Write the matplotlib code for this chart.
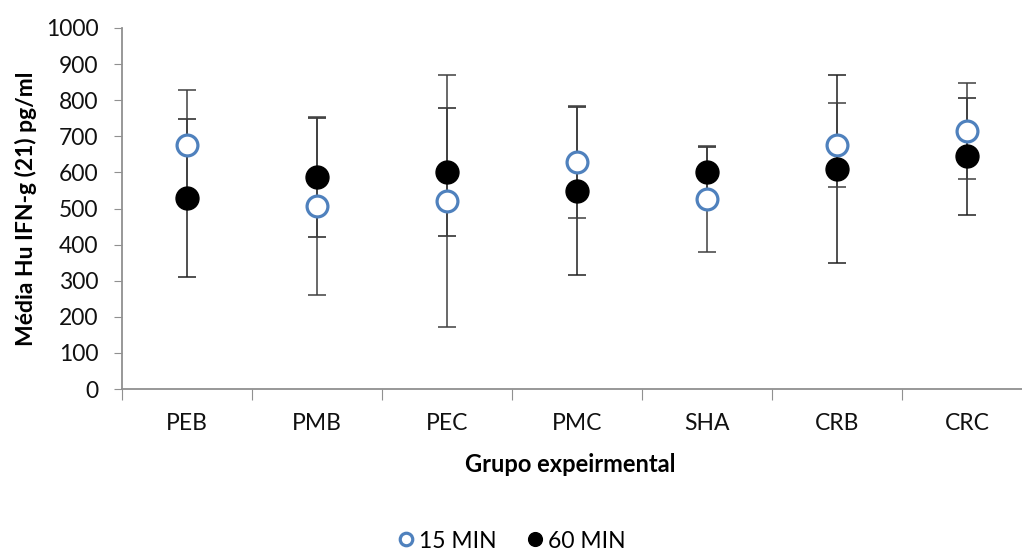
import matplotlib.pyplot as plt
import numpy as np

plt.rcParams['font.family'] = ['Lato', 'DejaVu Sans']

grupos = ['PEB', 'PMB', 'PEC', 'PMC', 'SHA', 'CRB', 'CRC']
media_15 = [676, 507, 521, 629, 526, 676, 715]
erro_15 = [152, 247, 350, 155, 146, 116, 132]
media_60 = [529, 587, 601, 548, 601, 609, 645]
erro_60 = [220, 165, 178, 232, 70, 260, 162]

fig = plt.figure(figsize=(10.22, 5.51), dpi=100)
ax = fig.add_axes([122 / 1022, 1 - 389 / 551, 910 / 1022, 361 / 551])

x = np.arange(len(grupos))
ax.errorbar(x, media_60, yerr=erro_60, fmt='none', ecolor='#202020', elinewidth=1.1,
            capsize=6.5, capthick=1.1, zorder=2)
ax.errorbar(x, media_15, yerr=erro_15, fmt='none', ecolor='#404040', elinewidth=1.1,
            capsize=6.5, capthick=1.1, zorder=2)
ax.plot(x, media_15, 'o', ms=15, mfc='white', mec='#4F81BD', mew=2.3, ls='none',
        label='15 MIN', zorder=3)
ax.plot(x, media_60, 'o', ms=16.5, mfc='black', mec='black', ls='none',
        label='60 MIN', zorder=3)

ax.set_xlim(-0.5, 6.5)
ax.set_ylim(0, 1000)
ax.set_yticks(np.arange(0, 1001, 100))
ax.set_xticks(np.arange(-0.5, 6.6, 1))
ax.set_xticklabels([])
ax.set_xticks(x, minor=True)
ax.set_xticklabels(grupos, minor=True)
ax.tick_params(axis='x', which='minor', length=0, pad=17, labelsize=16.5, colors='#111111')
ax.tick_params(axis='x', which='major', length=8, direction='out', color='#909090')
ax.tick_params(axis='y', length=6, direction='out', color='#909090', labelsize=16.5,
               labelcolor='#111111', pad=11)

for s in ['top', 'right']:
    ax.spines[s].set_visible(False)
for s in ['left', 'bottom']:
    ax.spines[s].set_color('#909090')
    ax.spines[s].set_linewidth(1.3)

ax.set_ylabel('Média Hu IFN-g (21) pg/ml', fontsize=16.5, fontweight='bold', labelpad=6)
fig.text(570 / 1022, 1 - 465 / 551, 'Grupo expeirmental', fontsize=17, fontweight='bold',
         ha='center', va='center')

fig.legend(loc='center', bbox_to_anchor=(510 / 1022, 1 - 541 / 551), ncol=2, frameon=False,
           fontsize=16.5, markerscale=0.6, handletextpad=0.05, columnspacing=1.2,
           handlelength=1.0)

plt.savefig('out.png', dpi=100)
